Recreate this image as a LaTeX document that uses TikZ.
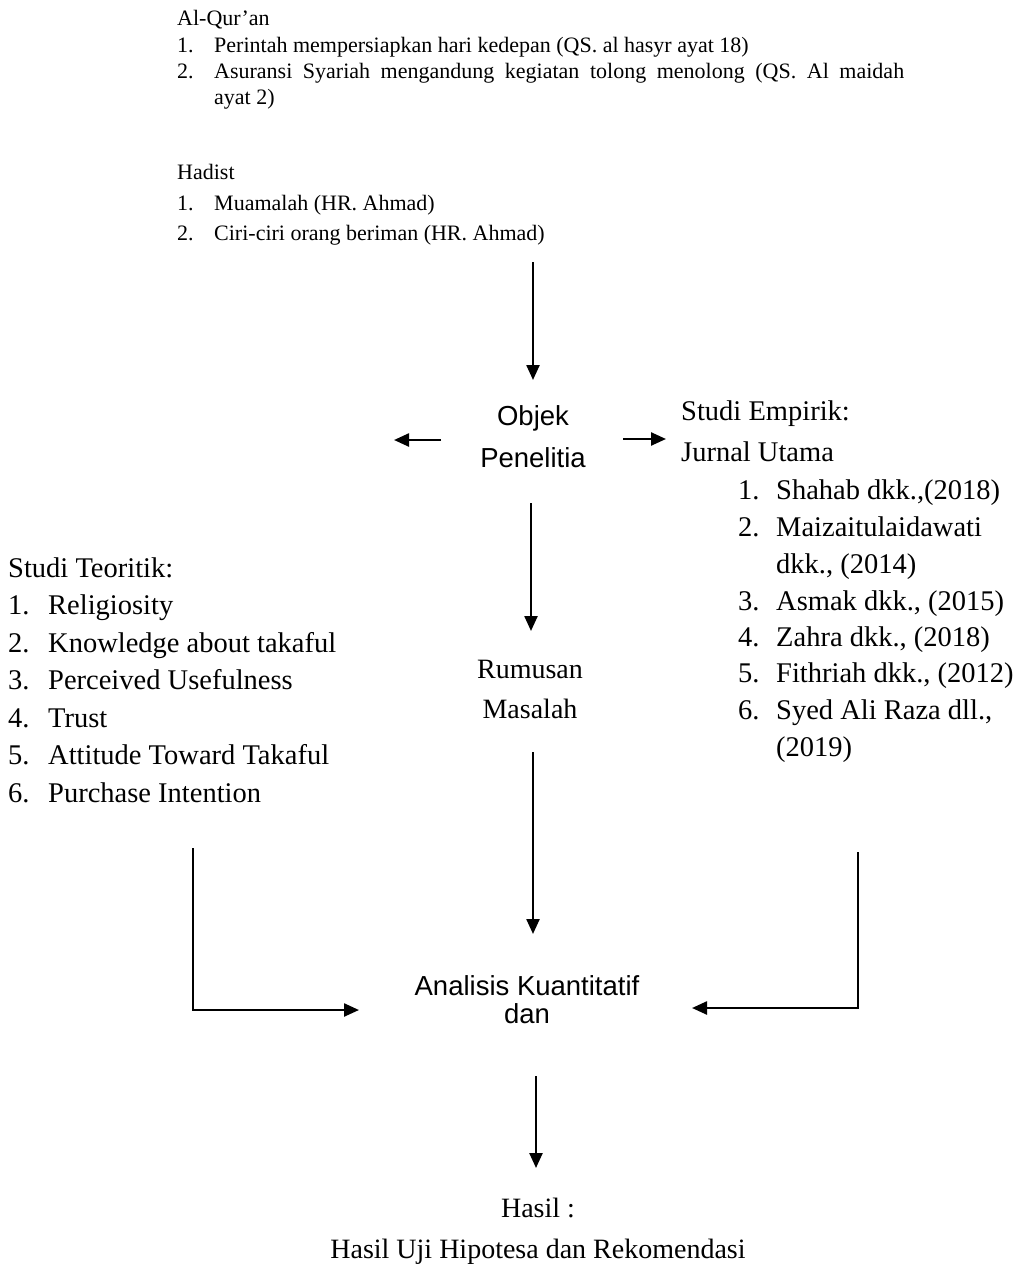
\documentclass[tikz,border=0pt]{standalone}
\usepackage{fontspec}
\setmainfont{Liberation Serif}
\newfontfamily\sansf{Liberation Sans}
\usetikzlibrary{arrows.meta}
\begin{document}
\begin{tikzpicture}[x=1pt,y=-1pt,
  txt/.style={anchor=mid west, inner sep=0pt, font=\fontsize{28.5}{33}\selectfont},
  toptxt/.style={anchor=mid west, inner sep=0pt, font=\fontsize{22}{26}\selectfont},
  ctxt/.style={anchor=center, inner sep=0pt, align=center, font=\fontsize{28}{40}\selectfont},
  sanstxt/.style={anchor=center, inner sep=0pt, align=center, font=\sansf\fontsize{27.5}{42}\selectfont},
  arr/.style={line width=2.4pt, -{Triangle[length=15pt,width=13pt]}}]
\useasboundingbox (0,0) rectangle (1020,1279);
\fill[white] (0,0) rectangle (1020,1279);

% top block
\node[toptxt] (q0) at (177,23) {Al-Qur'an};
\node[toptxt] (q1n) at (177,50) {1.};
\node[toptxt] (q1) at (214,50) {Perintah mempersiapkan hari kedepan (QS. al hasyr ayat 18)};
\node[toptxt] (q2n) at (177,76) {2.};
\node[toptxt] (q2) at (214,76) {\makebox[690pt][s]{Asuransi Syariah mengandung kegiatan tolong menolong (QS. Al maidah}};
\node[toptxt] (q2b) at (214,102) {ayat 2)};
\node[toptxt] (h0) at (177,177) {Hadist};
\node[toptxt] (h1n) at (177,208) {1.};
\node[toptxt] (h1) at (214,208) {Muamalah (HR. Ahmad)};
\node[toptxt] (h2n) at (177,238) {2.};
\node[toptxt] (h2) at (214,238) {Ciri-ciri orang beriman (HR. Ahmad)};

% centre column
\node[sanstxt] (objek) at (533,437) {Objek\\Penelitia};
\node[ctxt] (rumusan) at (530,689) {Rumusan\\Masalah};
\node[sanstxt, font=\sansf\fontsize{27.5}{28}\selectfont] (analisis) at (527,1000) {Analisis Kuantitatif\\dan};
\node[ctxt] (hasil) at (538,1208) {Hasil :};
\node[ctxt] (hasiluji) at (538,1252) {Hasil Uji Hipotesa dan Rekomendasi};

% left list
\node[txt] (st) at (8,575) {Studi Teoritik:};
\foreach \n/\t [count=\i] in {1/Religiosity,2/Knowledge about takaful,3/Perceived Usefulness,4/Trust,5/Attitude Toward Takaful,6/Purchase Intention}{
  \node[txt] (stn\i) at (8,{575+37.5*\i}) {\n.};
  \node[txt] (sti\i) at (48,{575+37.5*\i}) {\t};
}

% right list
\node[txt] (se) at (681,418) {Studi Empirik:};
\node[txt] (ju) at (681,459) {Jurnal Utama};
\node[txt] (e1n) at (738,497) {1.};
\node[txt] (e1) at (776,497) {Shahab dkk.,(2018)};
\node[txt] (e2n) at (738,534) {2.};
\node[txt] (e2) at (776,534) {Maizaitulaidawati};
\node[txt] (e2b) at (776,571) {dkk., (2014)};
\node[txt] (e3n) at (738,608) {3.};
\node[txt] (e3) at (776,608) {Asmak dkk., (2015)};
\node[txt] (e4n) at (738,644) {4.};
\node[txt] (e4) at (776,644) {Zahra dkk., (2018)};
\node[txt] (e5n) at (738,680) {5.};
\node[txt] (e5) at (776,680) {Fithriah dkk., (2012)};
\node[txt] (e6n) at (738,717) {6.};
\node[txt] (e6) at (776,717) {Syed Ali Raza dll.,};
\node[txt] (e6b) at (776,754) {(2019)};

% connector end points
\coordinate (a1s) at (533,262);  \coordinate (a1e) at (533,380);
\coordinate (al s) at (441,440); \coordinate (al e) at (394,440);
\coordinate (ar s) at (623,439); \coordinate (ar e) at (666,439);
\coordinate (a2s) at (531,503);  \coordinate (a2e) at (531,631);
\coordinate (a3s) at (533,752);  \coordinate (a3e) at (533,934);
\coordinate (bl s) at (193,848); \coordinate (bl c) at (193,1010); \coordinate (bl e) at (359,1010);
\coordinate (br s) at (858,852); \coordinate (br c) at (858,1008); \coordinate (br e) at (692,1008);
\coordinate (a4s) at (536,1076); \coordinate (a4e) at (536,1168);

\draw[arr] (a1s) -- (a1e);
\draw[arr] (al s) -- (al e);
\draw[arr] (ar s) -- (ar e);
\draw[arr] (a2s) -- (a2e);
\draw[arr] (a3s) -- (a3e);
\draw[arr] (bl s) -- (bl c) -- (bl e);
\draw[arr] (br s) -- (br c) -- (br e);
\draw[arr] (a4s) -- (a4e);
\end{tikzpicture}
\end{document}
